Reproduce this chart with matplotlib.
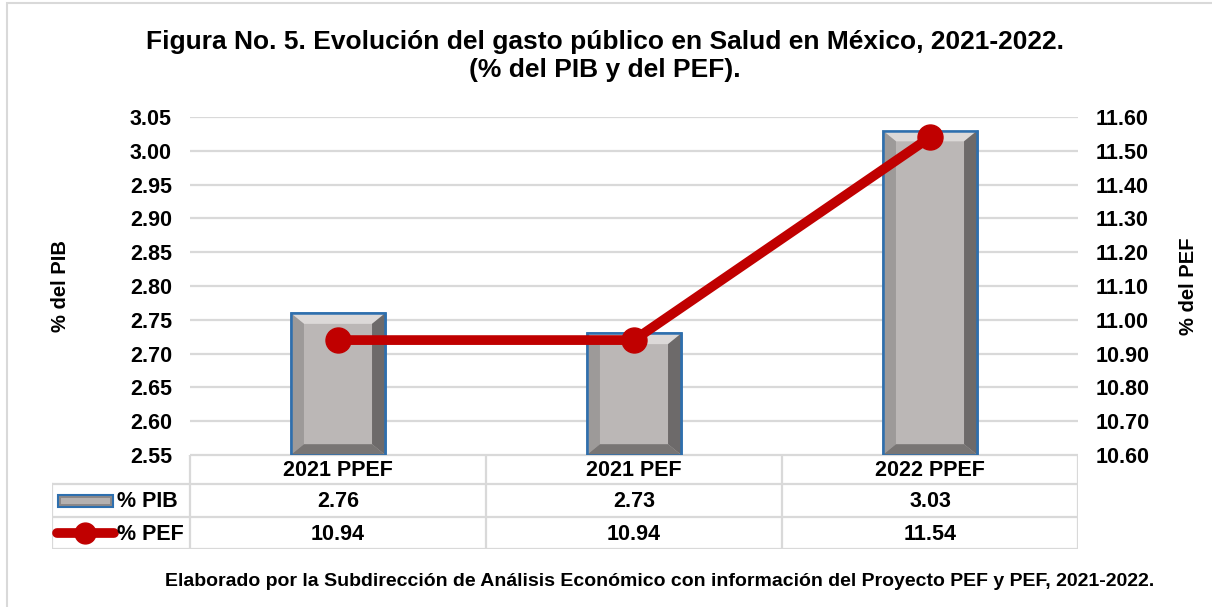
import matplotlib
matplotlib.use("Agg")
import matplotlib.pyplot as plt
from matplotlib.patches import Rectangle, Polygon
from matplotlib.lines import Line2D
import numpy as np

plt.rcParams['font.family'] = ['Liberation Sans', 'DejaVu Sans']
plt.rcParams['font.weight'] = 'bold'

# data
categories = ['2021 PPEF', '2021 PEF', '2022 PPEF']
pib = [2.76, 2.73, 3.03]
pef = [10.94, 10.94, 11.54]
series_names = ['% PIB', '% PEF']
left_ticks = np.arange(2.55, 3.0501, 0.05)
right_ticks = np.arange(10.60, 11.6001, 0.10)

title_lines = ["Figura No. 5. Evolución del gasto público en Salud en México, 2021-2022.",
               "(% del PIB y del PEF)."]
footer = ("Elaborado por la Subdirección de Análisis Económico con información "
          "del Proyecto PEF y PEF, 2021-2022.")

W, H = 1212, 607
fig = plt.figure(figsize=(W / 100, H / 100), dpi=100)

# figure border
fig.patches.append(Rectangle((7 / W, -0.05), 1.2, 1 - 3 / H + 0.05, transform=fig.transFigure,
                             fill=False, edgecolor='#d9d9d9', linewidth=1.5))

GRID = '#d9d9d9'
RED = '#c00000'
EDGE = '#2e6fae'
FS = 15.5

ax = fig.add_axes([190 / W, 1 - 455 / H, 888 / W, 338 / H])
ax.set_xlim(-0.5, 2.5)
ax.set_ylim(2.55, 3.05)
ax.set_yticks(left_ticks)
ax.set_yticklabels([f'{t:.2f}' for t in left_ticks], fontsize=FS, fontweight='bold')
ax.tick_params(axis='y', length=0, pad=13)
ax.set_xticks([])
for s in ax.spines.values():
    s.set_visible(False)
ax.grid(axis='y', color=GRID, linewidth=1.6)
ax.set_axisbelow(True)

# bars with bevel
bw = 0.32
x = np.arange(len(categories))
ax.bar(x, [v - 2.55 for v in pib], bottom=2.55, width=bw, color='#bbb7b6',
       edgecolor=EDGE, linewidth=1.8, zorder=2)
bx, by = 0.045, 0.016
for xi, v in zip(x, pib):
    l, r, b, t = xi - bw / 2, xi + bw / 2, 2.55, v
    pieces = [
        ([(l, t), (r, t), (r - bx, t - by), (l + bx, t - by)], '#dcd9d8'),
        ([(l, b), (l, t), (l + bx, t - by), (l + bx, b + by)], '#9d9a99'),
        ([(r, b), (r, t), (r - bx, t - by), (r - bx, b + by)], '#6d6a6a'),
        ([(l, b), (r, b), (r - bx, b + by), (l + bx, b + by)], '#787574'),
    ]
    for pts, c in pieces:
        ax.add_patch(Polygon(pts, closed=True, facecolor=c, edgecolor='none', zorder=3))
    ax.add_patch(Rectangle((l, b), bw, t - b, fill=False, edgecolor=EDGE, linewidth=1.8, zorder=4))

ax2 = ax.twinx()
ax2.set_ylim(10.60, 11.60)
ax2.set_yticks(right_ticks)
ax2.set_yticklabels([f'{t:.2f}' for t in right_ticks], fontsize=FS, fontweight='bold')
ax2.tick_params(axis='y', length=0, pad=13)
for s in ax2.spines.values():
    s.set_visible(False)
ax2.plot(x, pef, color=RED, linewidth=7, marker='o', markersize=18, zorder=5)

fig.text(60 / W, 1 - 286 / H, '% del PIB', rotation=90, ha='center', va='center',
         fontsize=14.5, fontweight='bold')
fig.text(1188 / W, 1 - 286 / H, '% del PEF', rotation=90, ha='center', va='center',
         fontsize=14.5, fontweight='bold')

# data table
tab = fig.add_axes([52 / W, 1 - 549 / H, 1026 / W, 94 / H])
tab.set_xlim(52, 1078)
tab.set_ylim(549, 455)
tab.axis('off')
cols = [52, 190, 486, 782, 1078]
rows = [455, 484, 517, 549]
lw = 1.6
tab.plot([190, 1078], [rows[0], rows[0]], color=GRID, lw=lw)
for yy in rows[1:]:
    tab.plot([52, 1078], [yy, yy], color=GRID, lw=lw)
for xx in cols:
    y0 = rows[1] if xx == 52 else rows[0]
    tab.plot([xx, xx], [y0, rows[-1]], color=GRID, lw=lw)

for i, c in enumerate(categories):
    cx = (cols[i + 1] + cols[i + 2]) / 2
    tab.text(cx, (rows[0] + rows[1]) / 2 + 1, c, ha='center', va='center', fontsize=FS, fontweight='bold')
    tab.text(cx, (rows[1] + rows[2]) / 2 + 1, f'{pib[i]:.2f}', ha='center', va='center', fontsize=FS, fontweight='bold')
    tab.text(cx, (rows[2] + rows[3]) / 2 + 1, f'{pef[i]:.2f}', ha='center', va='center', fontsize=FS, fontweight='bold')

# legend keys
ym1 = (rows[1] + rows[2]) / 2
tab.add_patch(Rectangle((58, ym1 - 6), 55, 12, facecolor='#8c8888', edgecolor=EDGE, linewidth=1.5))
tab.add_patch(Rectangle((61, ym1 - 3), 49, 6, facecolor='#b5b1b0', edgecolor='none'))
tab.text(117, ym1 + 1, series_names[0], ha='left', va='center', fontsize=FS, fontweight='bold')
ym2 = (rows[2] + rows[3]) / 2
tab.add_line(Line2D([57, 114], [ym2, ym2], color=RED, linewidth=7, solid_capstyle='round'))
tab.add_line(Line2D([85], [ym2], color=RED, marker='o', markersize=15))
tab.text(117, ym2 + 1, series_names[1], ha='left', va='center', fontsize=FS, fontweight='bold')

for line, yp in zip(title_lines, [42, 70]):
    fig.text(605 / W, 1 - yp / H, line, ha='center', va='center', fontsize=19, fontweight='bold')
fig.text(660 / W, 1 - 582 / H, footer, ha='center', va='center', fontsize=14, fontweight='bold')

fig.savefig('out.png', dpi=100)
